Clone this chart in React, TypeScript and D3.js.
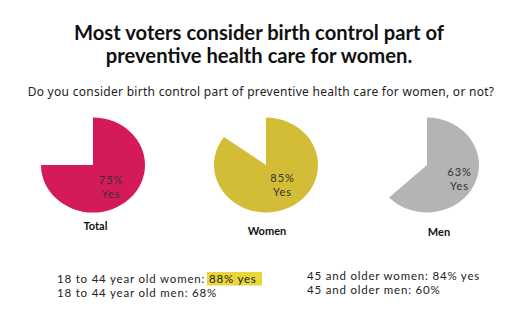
import React from "react";
import * as d3 from "d3";

const groups = ["Total", "Women", "Men"];
const yesValues = [75, 85, 63];
const colors = ["#d51a5b", "#d3bd36", "#b4b4b4"];
const leftNotes = ["18 to 44 year old women: ", "18 to 44 year old men: 68%"];
const highlightNote = "88% yes";
const rightNotes = ["45 and older women: 84% yes", "45 and older men: 60%"];

const W = 529;
const H = 335;
const centersX = [93, 266, 427];
const labelOffsets = [
  { dx: 18, dy: 19 },
  { dx: 16.5, dy: 17 },
  { dx: 32.5, dy: 11 },
];
const catOffsets = [
  { dx: 2.5, y: 230 },
  { dx: 1, y: 235 },
  { dx: 12, y: 236 },
];

export default function App() {
  const rx = 52;
  const ry = 47.5;
  const cy = 165;
  const pie = d3.pie<number>().sort(null).startAngle(0).endAngle(2 * Math.PI);
  const arc = d3.arc<d3.PieArcDatum<number>>().innerRadius(0).outerRadius(rx);
  const titleFont = "Lato, sans-serif";
  const font = "'Noto Sans', sans-serif";
  return (
    <svg
      width={W}
      height={H}
      style={{ position: "absolute", left: 0, top: 0, background: "#fff" }}
      fontFamily={font}
    >
      <text x={259} y={40} textAnchor="middle" fontSize={20.2} fontWeight={700} fill="#111" fontFamily={titleFont}>
        Most voters consider birth control part of
      </text>
      <text x={259} y={63} textAnchor="middle" fontSize={20.2} fontWeight={700} fill="#111" fontFamily={titleFont}>
        preventive health care for women.
      </text>
      <text x={261} y={96} textAnchor="middle" fontSize={12} letterSpacing={0.28} fill="#222">
        Do you consider birth control part of preventive health care for women, or not?
      </text>
      {groups.map((g, i) => {
        const arcs = pie([yesValues[i], 100 - yesValues[i]]);
        const cx = centersX[i];
        return (
          <g key={g}>
            <g transform={`translate(${cx},${cy}) scale(1,${ry / rx})`}>
              <path d={arc(arcs[0]) || ""} fill={colors[i]} />
            </g>
            <text
              x={cx + labelOffsets[i].dx}
              y={cy + labelOffsets[i].dy}
              textAnchor="middle"
              fontSize={11}
              letterSpacing={0.9}
              fill="#333"
              fontFamily={titleFont}
            >
              {yesValues[i]}%
            </text>
            <text
              x={cx + labelOffsets[i].dx}
              y={cy + labelOffsets[i].dy + 13.5}
              textAnchor="middle"
              fontSize={11}
              letterSpacing={0.9}
              fill="#333"
              fontFamily={titleFont}
            >
              Yes
            </text>
            <text
              x={cx + catOffsets[i].dx}
              y={catOffsets[i].y}
              textAnchor="middle"
              fontSize={11}
              fontWeight={700}
              fill="#111"
              fontFamily={titleFont}
            >
              {g}
            </text>
          </g>
        );
      })}
      <rect x={207} y={272} width={55} height={13.5} fill="#e9d63a" />
      <g fontFamily={titleFont} fontSize={11.5} letterSpacing={0.8} fill="#222">
        <text x={57} y={283}>
          {leftNotes[0]}
          <tspan x={209}>{highlightNote}</tspan>
        </text>
        <text x={57} y={297}>
          {leftNotes[1]}
        </text>
        <text x={307} y={280}>
          {rightNotes[0]}
        </text>
        <text x={307} y={294}>
          {rightNotes[1]}
        </text>
      </g>
    </svg>
  );
}
